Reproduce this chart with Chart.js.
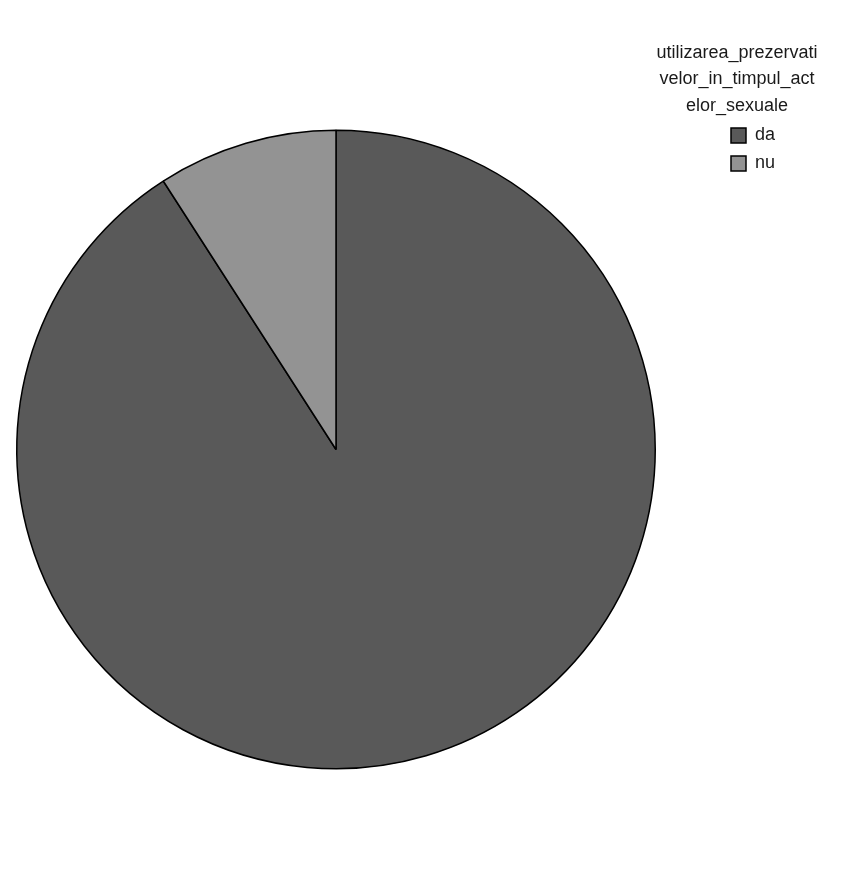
<!DOCTYPE html>
<html>
<head>
<meta charset="utf-8">
<script src="https://cdn.jsdelivr.net/npm/chart.js@4/dist/chart.umd.min.js"></script>
<style>
html,body{margin:0;padding:0;background:#fff;}
#wrap{width:858px;height:895px;position:relative;}
</style>
</head>
<body>
<div id="wrap"><canvas id="c" width="858" height="895"></canvas></div>
<script>
const categories = ["da", "nu"];
const values = [90.9, 9.1];
const colors = ["#595959", "#939393"];
const legendTitle = ["utilizarea_prezervati", "velor_in_timpul_act", "elor_sexuale"];

const legendPlugin = {
  id: 'customLegend',
  afterDraw(chart) {
    const ctx = chart.ctx;
    ctx.save();
    ctx.font = '18px "Liberation Sans", Arial, sans-serif';
    ctx.fillStyle = '#1a1a1a';
    ctx.textAlign = 'center';
    ctx.textBaseline = 'middle';
    const cx = 737;
    legendTitle.forEach((t, i) => ctx.fillText(t, cx, 53 + i * 26.5));
    const ds = chart.data.datasets[0];
    chart.data.labels.forEach((lab, i) => {
      const y = 135 + i * 28;
      ctx.fillStyle = ds.backgroundColor[i];
      ctx.fillRect(731, y - 7, 15, 15);
      ctx.strokeStyle = '#000';
      ctx.lineWidth = 1.5;
      ctx.strokeRect(731, y - 7, 15, 15);
      ctx.fillStyle = '#1a1a1a';
      ctx.textAlign = 'left';
      ctx.fillText(lab, 755, y);
    });
    ctx.restore();
  }
};

new Chart(document.getElementById('c'), {
  type: 'pie',
  data: {
    labels: categories,
    datasets: [{
      data: values,
      backgroundColor: colors,
      borderColor: '#000000',
      borderWidth: 1.5,
      hoverOffset: 0
    }]
  },
  options: {
    responsive: false,
    animation: false,
    layout: { padding: { left: 16, right: 202, top: 129, bottom: 125 } },
    plugins: {
      legend: { display: false },
      tooltip: { enabled: false }
    }
  },
  plugins: [legendPlugin]
});
</script>
</body>
</html>
